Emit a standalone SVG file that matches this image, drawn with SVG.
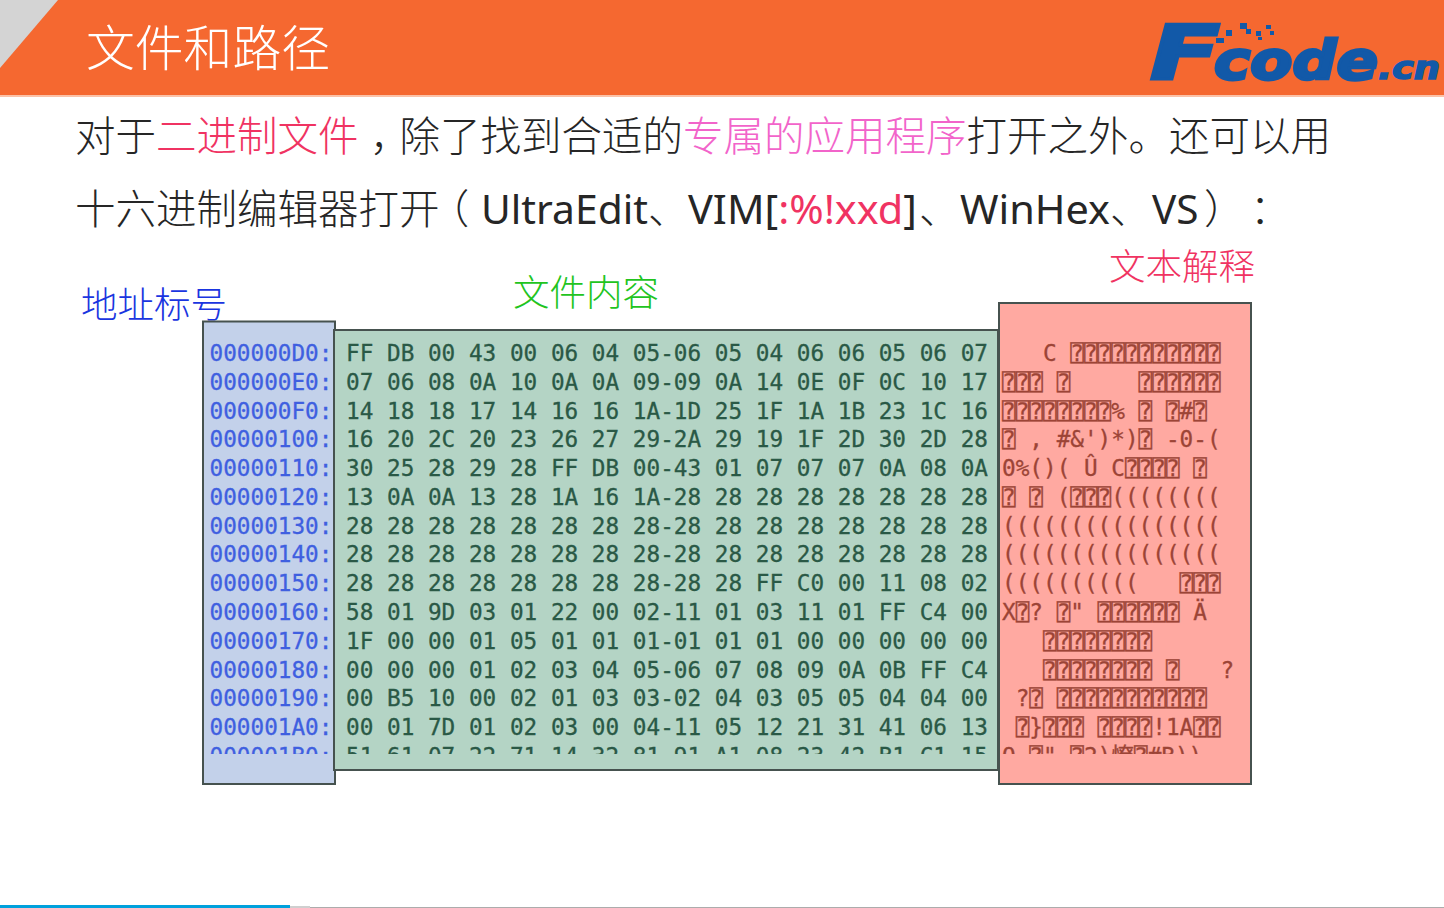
<svg xmlns="http://www.w3.org/2000/svg" width="1444" height="908" viewBox="0 0 1444 908">
<style>
.cjk{font-family:"Noto Sans CJK SC","Noto Sans",sans-serif;font-size:40.5px;font-weight:300;fill:#262626}
.halt{font-feature-settings:"halt" 1}
.lat{font-family:"Noto Sans","Noto Sans CJK SC",sans-serif;font-size:40.5px;font-weight:400;fill:#262626}
.pink{fill:#f264ca}
.red{fill:#f03362}
.lbl{font-family:"Noto Sans CJK SC",sans-serif;font-size:36.5px;font-weight:300}
.mono{font-family:"DejaVu Sans Mono","Liberation Mono",monospace;font-size:22.7px;stroke-width:.3}
.addr{fill:#3f5fe0;stroke:#3f5fe0}
.hex{fill:#2a5946;stroke:#2a5946}
.asc{fill:#9c4436;stroke:#9c4436}
.box{stroke:#46524f;stroke-width:2}
.logo{font-family:"DejaVu Sans",sans-serif;font-weight:bold;font-style:italic;fill:#1259a8;stroke:#1259a8}
</style>
<defs>
<clipPath id="clip"><rect x="200" y="330" width="1060" height="424"/></clipPath>
</defs>
<rect width="1444" height="908" fill="#ffffff"/>
<g id="header">
<rect width="1444" height="95" fill="#f56830"/>
<rect y="95" width="1444" height="2" fill="#fbc2a8"/>
<polygon points="0,0 58,0 0,68" fill="#d4d4d4"/>
<text x="86" y="66" font-family="'Noto Sans CJK SC',sans-serif" font-size="48.8" font-weight="300" fill="#ffffff">文件和路径</text>
</g>
<g id="logo">
<text class="logo" x="1150" y="79" font-size="75" stroke-width="3" textLength="70" lengthAdjust="spacingAndGlyphs">F</text>
<text class="logo" x="1214" y="79" font-size="54" stroke-width="3" textLength="164" lengthAdjust="spacingAndGlyphs">code</text>
<text class="logo" x="1378" y="79" font-size="32" stroke-width="1.5" textLength="62" lengthAdjust="spacingAndGlyphs">.cn</text>
<g fill="#1259a8">
<rect x="1216" y="38" width="8" height="5"/><rect x="1226" y="30" width="6" height="6"/><rect x="1240" y="23" width="7" height="6"/>
<rect x="1246" y="29" width="5" height="5"/><rect x="1256" y="31" width="5" height="5"/><rect x="1266" y="25" width="5" height="4"/><rect x="1270" y="31" width="4" height="4"/><rect x="1258" y="37" width="4" height="3"/>
</g>
</g>
<g id="body-text">
<text class="cjk" x="75" y="151">对于<tspan class="red">二进制文件</tspan></text>
<text class="cjk halt" x="370" y="151">，</text>
<text class="cjk" x="399.500" y="151">除了找到合适的<tspan class="pink">专属的应用程序</tspan>打开之外。还可以用</text>
<text class="cjk" x="75" y="224">十六进制编辑器打开</text>
<text class="cjk halt" x="449" y="224">（</text>
<text class="lat" x="481" y="224" textLength="167" lengthAdjust="spacingAndGlyphs">UltraEdit</text>
<text class="cjk" x="648" y="224">、</text>
<text class="lat" x="688" y="224" textLength="229" lengthAdjust="spacingAndGlyphs">VIM[<tspan class="red">:%!xxd</tspan>]</text>
<text class="cjk" x="919" y="224">、</text>
<text class="lat" x="960" y="224" textLength="150" lengthAdjust="spacingAndGlyphs">WinHex</text>
<text class="cjk" x="1110" y="224">、</text>
<text class="lat" x="1152" y="224">VS</text>
<text class="cjk" x="1204" y="224">）</text>
<text class="cjk" x="1250" y="224">：</text>
</g>
<g id="label-addr"><text class="lbl" x="81" y="318" fill="#1a35e0">地址标号</text></g>
<g id="label-content"><text class="lbl" x="513" y="306" fill="#22c41e">文件内容</text></g>
<g id="label-text"><text class="lbl" x="1109" y="280" fill="#f03362">文本解释</text></g>
<g id="address-panel">
<rect class="box" x="203" y="321.500" width="132" height="462.500" fill="#c3d1ea"/>
</g>
<g id="hex-panel">
<rect class="box" x="334" y="330" width="664" height="440" fill="#b4d4c5"/>
</g>
<g id="text-panel">
<rect class="box" x="999" y="303" width="252" height="481" fill="#ffa9a1"/>
</g>
<g id="dump" clip-path="url(#clip)" xml:space="preserve">
<g class="mono addr">
<text x="209.500" y="361">000000D0:</text>
<text x="209.500" y="389.800">000000E0:</text>
<text x="209.500" y="418.500">000000F0:</text>
<text x="209.500" y="447.300">00000100:</text>
<text x="209.500" y="476.100">00000110:</text>
<text x="209.500" y="504.900">00000120:</text>
<text x="209.500" y="533.600">00000130:</text>
<text x="209.500" y="562.400">00000140:</text>
<text x="209.500" y="591.200">00000150:</text>
<text x="209.500" y="619.900">00000160:</text>
<text x="209.500" y="648.700">00000170:</text>
<text x="209.500" y="677.500">00000180:</text>
<text x="209.500" y="706.200">00000190:</text>
<text x="209.500" y="735">000001A0:</text>
<text x="209.500" y="763.800">000001B0:</text>
</g>
<g class="mono hex">
<text x="346" y="361">FF DB 00 43 00 06 04 05-06 05 04 06 06 05 06 07</text>
<text x="346" y="389.800">07 06 08 0A 10 0A 0A 09-09 0A 14 0E 0F 0C 10 17</text>
<text x="346" y="418.500">14 18 18 17 14 16 16 1A-1D 25 1F 1A 1B 23 1C 16</text>
<text x="346" y="447.300">16 20 2C 20 23 26 27 29-2A 29 19 1F 2D 30 2D 28</text>
<text x="346" y="476.100">30 25 28 29 28 FF DB 00-43 01 07 07 07 0A 08 0A</text>
<text x="346" y="504.900">13 0A 0A 13 28 1A 16 1A-28 28 28 28 28 28 28 28</text>
<text x="346" y="533.600">28 28 28 28 28 28 28 28-28 28 28 28 28 28 28 28</text>
<text x="346" y="562.400">28 28 28 28 28 28 28 28-28 28 28 28 28 28 28 28</text>
<text x="346" y="591.200">28 28 28 28 28 28 28 28-28 28 FF C0 00 11 08 02</text>
<text x="346" y="619.900">58 01 9D 03 01 22 00 02-11 01 03 11 01 FF C4 00</text>
<text x="346" y="648.700">1F 00 00 01 05 01 01 01-01 01 01 00 00 00 00 00</text>
<text x="346" y="677.500">00 00 00 01 02 03 04 05-06 07 08 09 0A 0B FF C4</text>
<text x="346" y="706.200">00 B5 10 00 02 01 03 03-02 04 03 05 05 04 04 00</text>
<text x="346" y="735">00 01 7D 01 02 03 00 04-11 05 12 21 31 41 06 13</text>
<text x="346" y="763.800">51 61 07 22 71 14 32 81-91 A1 08 23 42 B1 C1 15</text>
</g>
<g class="mono asc">
<text x="1002" y="361" xml:space="preserve">   C ⍰⍰⍰⍰⍰⍰⍰⍰⍰⍰⍰</text>
<text x="1002" y="389.800" xml:space="preserve">⍰⍰⍰ ⍰     ⍰⍰⍰⍰⍰⍰</text>
<text x="1002" y="418.500" xml:space="preserve">⍰⍰⍰⍰⍰⍰⍰⍰% ⍰ ⍰#⍰</text>
<text x="1002" y="447.300" xml:space="preserve">⍰ , #&amp;')*)⍰ -0-(</text>
<text x="1002" y="476.100" xml:space="preserve">0%()( Û C⍰⍰⍰⍰ ⍰</text>
<text x="1002" y="504.900" xml:space="preserve">⍰ ⍰ (⍰⍰⍰((((((((</text>
<text x="1002" y="533.600" xml:space="preserve">((((((((((((((((</text>
<text x="1002" y="562.400" xml:space="preserve">((((((((((((((((</text>
<text x="1002" y="591.200" xml:space="preserve">((((((((((   ⍰⍰⍰</text>
<text x="1002" y="619.900" xml:space="preserve">X⍰? ⍰" ⍰⍰⍰⍰⍰⍰ Ä</text>
<text x="1002" y="648.700" xml:space="preserve">   ⍰⍰⍰⍰⍰⍰⍰⍰</text>
<text x="1002" y="677.500" xml:space="preserve">   ⍰⍰⍰⍰⍰⍰⍰⍰ ⍰   ?</text>
<text x="1002" y="706.200" xml:space="preserve"> ?⍰ ⍰⍰⍰⍰⍰⍰⍰⍰⍰⍰⍰</text>
<text x="1002" y="735" xml:space="preserve"> ⍰}⍰⍰⍰ ⍰⍰⍰⍰!1A⍰⍰</text>
<text x="1002" y="763.800" xml:space="preserve">Q-⍰"-⍰2)<tspan font-family="'Noto Sans CJK SC',sans-serif">憭</tspan>⍰#B))</text>
</g>
</g>
<g id="footer">
<rect x="0" y="905" width="290" height="3" fill="#00a1dc"/>
<rect x="290" y="906" width="20" height="2" fill="#cfcfcf"/>
<rect x="310" y="907" width="1134" height="1" fill="#acacac"/>
</g>
</svg>
